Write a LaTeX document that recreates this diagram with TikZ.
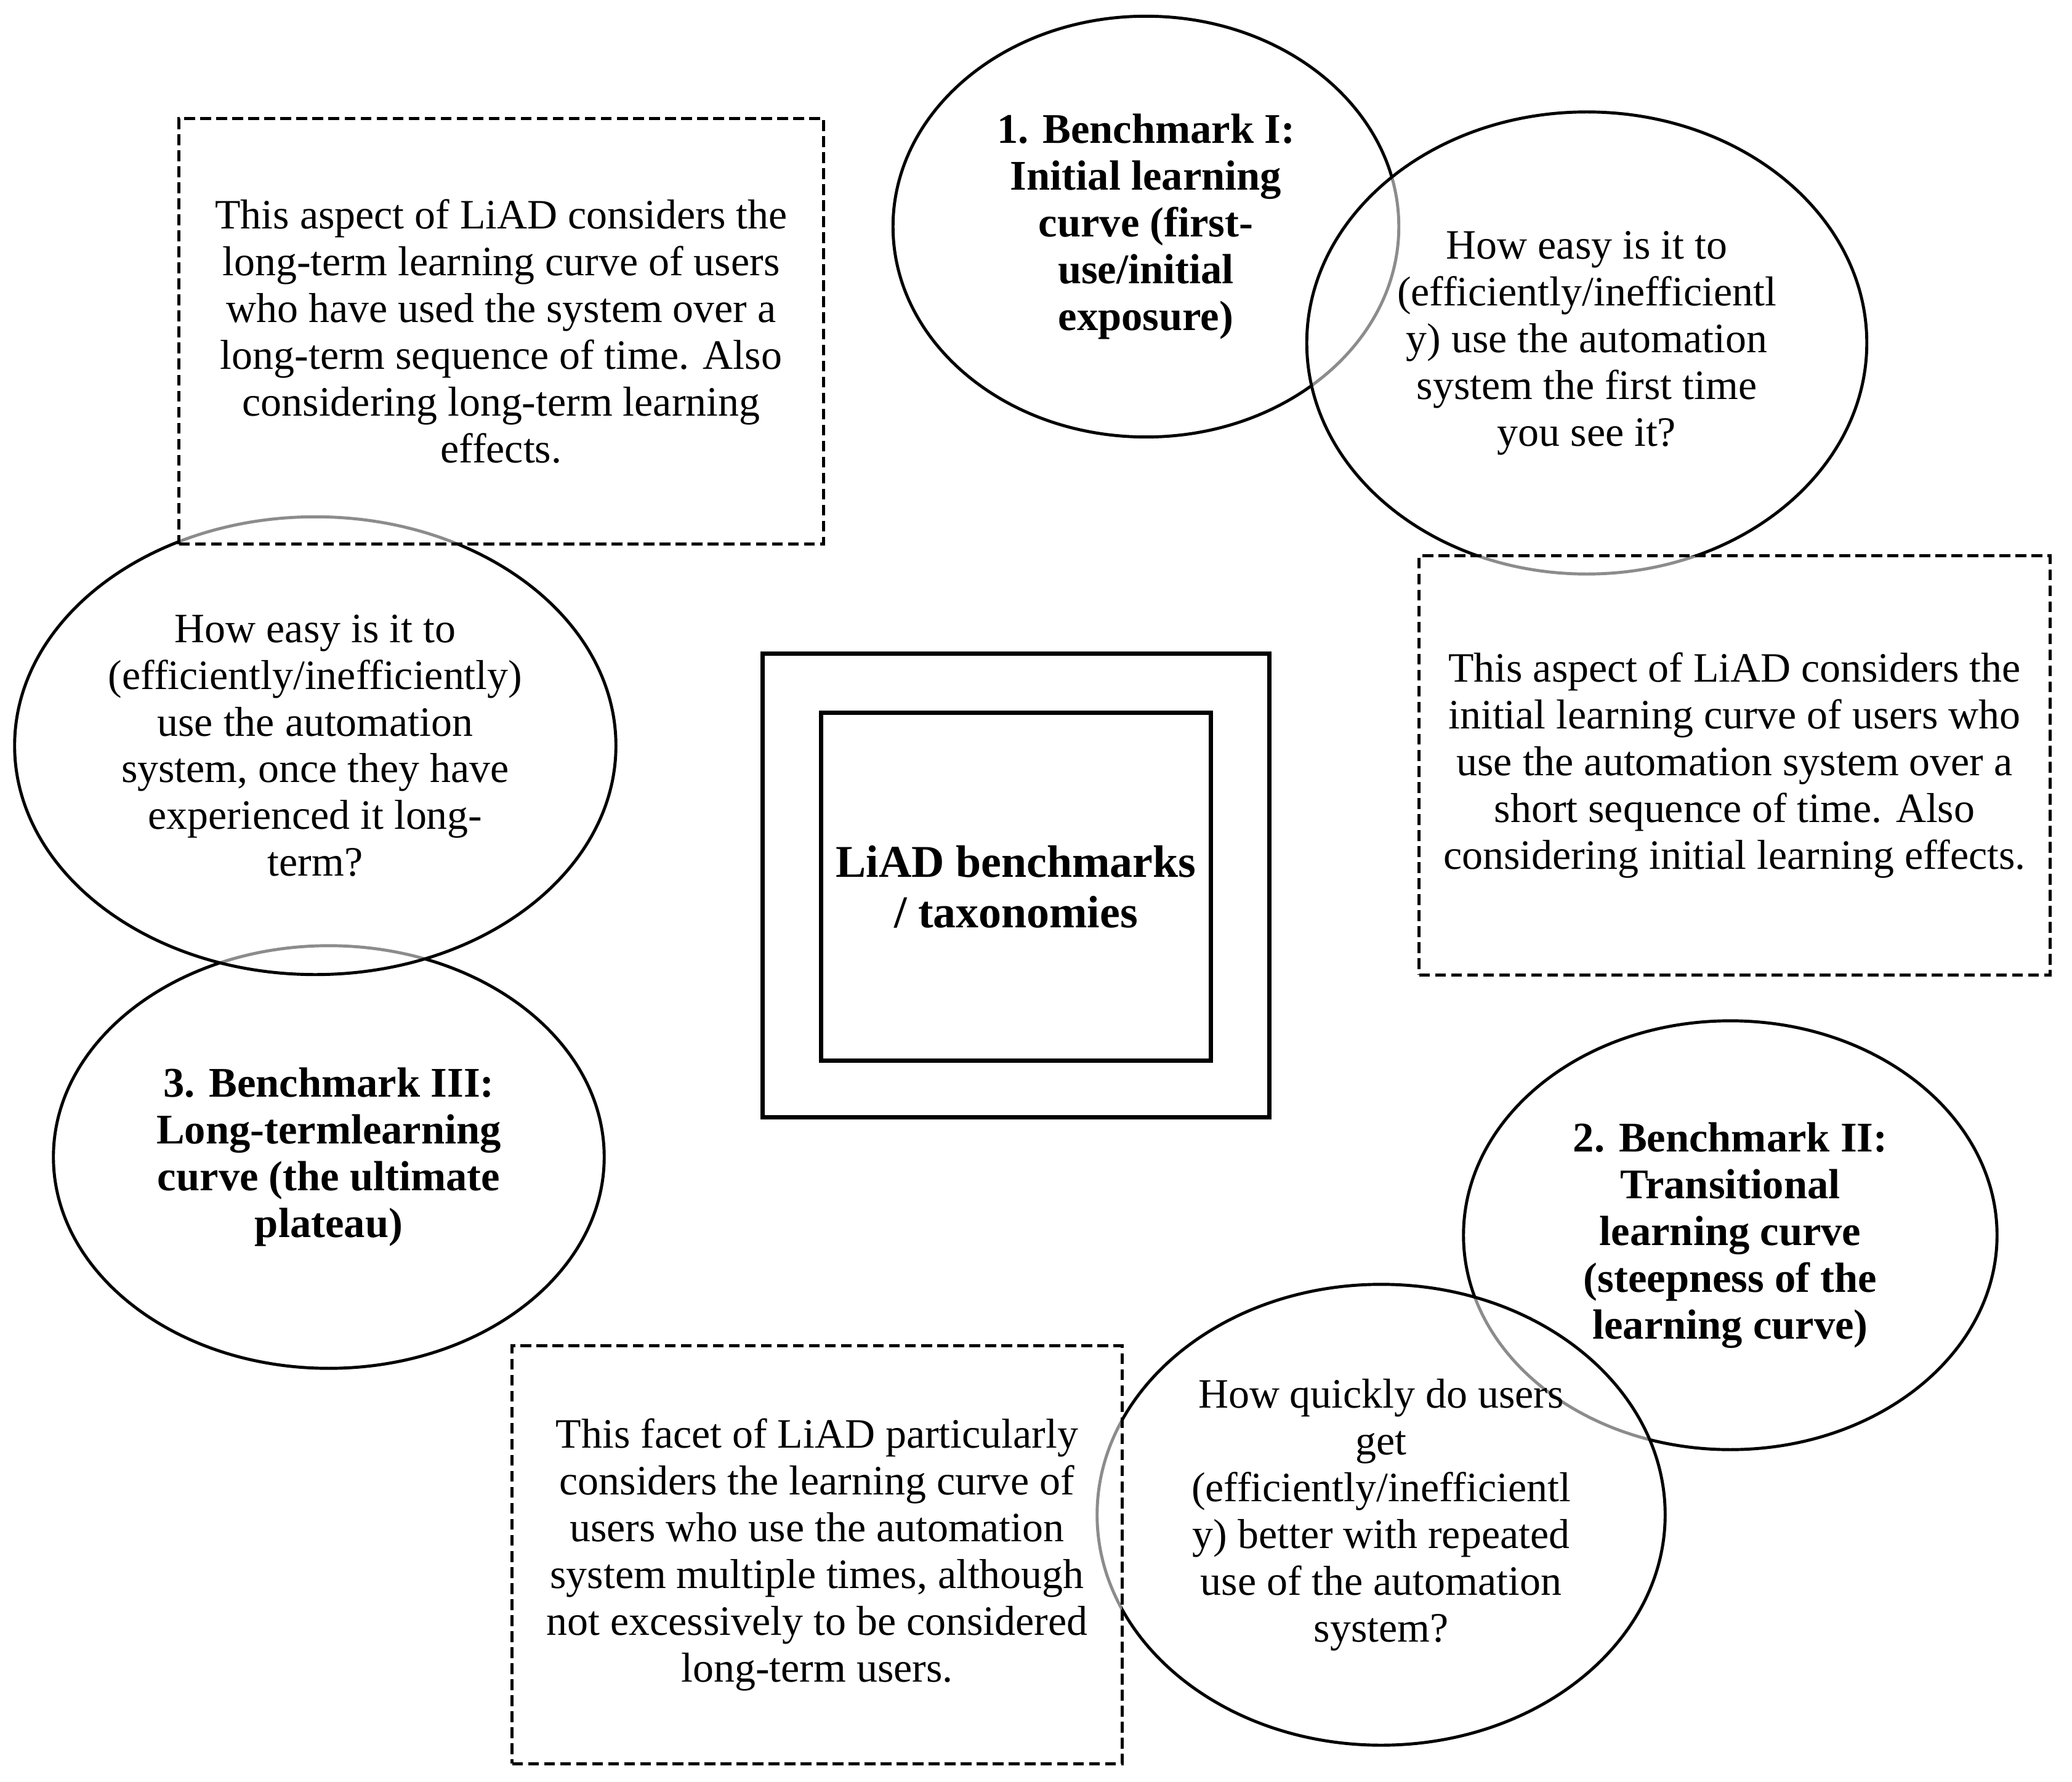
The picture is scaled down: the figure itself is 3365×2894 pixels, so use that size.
\documentclass[tikz,border=0pt]{standalone}
\usepackage{fontspec}
\setmainfont{Liberation Serif}
\usetikzlibrary{shapes.geometric}
\begin{document}
\begin{tikzpicture}[x=0.01cm,y=-0.01cm,
  txt/.style={font=\fontsize{19.3}{21.6}\selectfont, align=center},
  btxt/.style={font=\fontsize{19.5}{21.6}\selectfont\bfseries, align=center},
  bub/.style={ellipse, draw, line width=1.4pt, inner sep=0pt, fill=white, fill opacity=0.55, text opacity=1},
  dbox/.style={rectangle, draw, dash pattern=on 5pt off 2.4pt, line width=1.4pt, fill=white, fill opacity=0.55, text opacity=1, inner sep=0pt, txt},
  sq/.style={rectangle, draw, line width=2pt, inner sep=0pt}]
\useasboundingbox (0,0) rectangle (3365,2894);

% central squares
\node[sq, minimum width=8.22cm, minimum height=7.52cm] (outer) at (1650,1438) {};
\node[sq, minimum width=6.32cm, minimum height=5.64cm, btxt, font=\fontsize{21}{23.3}\selectfont\bfseries] (inner) at (1650,1440) {LiAD benchmarks\\/ taxonomies};

% top: benchmark I and question
\node[bub, btxt, minimum width=8.21cm, minimum height=6.83cm] (b1) at (1861,368)
  {1. Benchmark I:\\Initial learning\\curve (first-\\use/initial\\exposure)};
\node[bub, txt, minimum width=9.09cm, minimum height=7.50cm] (q1) at (2577,557)
  {How easy is it to\\(efficiently/inefficientl\\y) use the automation\\system the first time\\you see it?};
\node[dbox, minimum width=10.24cm, minimum height=6.80cm] (d1) at (2817,1243)
  {This aspect of LiAD considers the\\initial learning curve of users who\\use the automation system over a\\short sequence of time. Also\\considering initial learning effects.};

% left: benchmark III and question
\node[bub, btxt, minimum width=8.94cm, minimum height=6.86cm] (b3) at (534,1879)
  {3. Benchmark III:\\Long-termlearning\\curve (the ultimate\\plateau)};
\node[bub, txt, minimum width=9.76cm, minimum height=7.43cm] (q3) at (512,1211)
  {How easy is it to\\(efficiently/inefficiently)\\use the automation\\system, once they have\\experienced it long-\\term?};
\node[dbox, minimum width=10.46cm, minimum height=6.91cm] (d3) at (814,538)
  {This aspect of LiAD considers the\\long-term learning curve of users\\who have used the system over a\\long-term sequence of time. Also\\considering long-term learning\\effects.};

% bottom right: benchmark II and question
\node[bub, btxt, minimum width=8.66cm, minimum height=6.96cm] (b2) at (2810,2006)
  {2. Benchmark II:\\Transitional\\learning curve\\(steepness of the\\learning curve)};
\node[bub, txt, minimum width=9.22cm, minimum height=7.48cm] (q2) at (2243,2460)
  {How quickly do users\\get\\(efficiently/inefficientl\\y) better with repeated\\use of the automation\\system?};
\node[dbox, minimum width=9.90cm, minimum height=6.78cm] (d2) at (1327,2525)
  {This facet of LiAD particularly\\considers the learning curve of\\users who use the automation\\system multiple times, although\\not excessively to be considered\\long-term users.};
\end{tikzpicture}
\end{document}
